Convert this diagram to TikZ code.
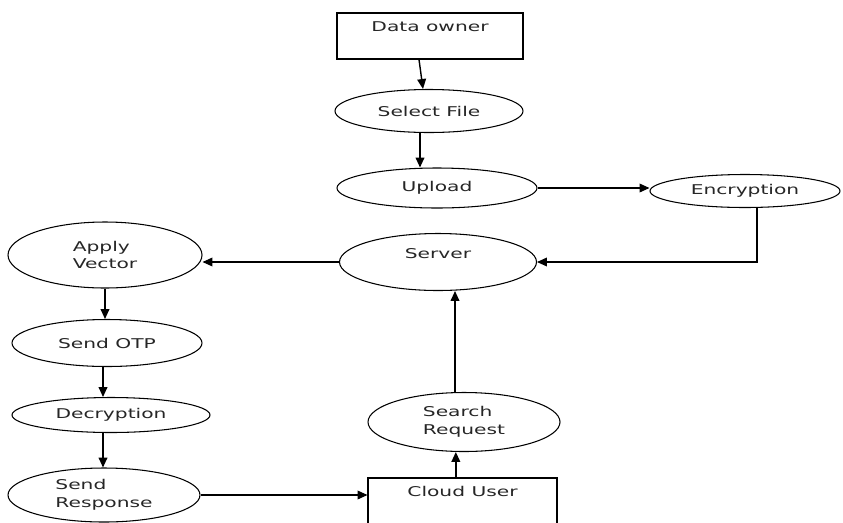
\documentclass[tikz,border=0pt]{standalone}
\usepackage{fontspec}
\newfontfamily\flowfont[FakeStretch=1.5]{DejaVu Sans}
\usetikzlibrary{shapes.geometric,arrows.meta}

\tikzset{
  proc/.style={ellipse, draw, line width=0.9pt, inner sep=0pt, align=left},
  actor/.style={rectangle, draw, line width=0.9pt, inner sep=0pt},
  toplabel/.style={below=4pt}
}

\begin{document}
\begin{tikzpicture}[x=0.03cm, y=-0.03cm, >={Triangle[length=8.5pt,width=7.5pt]},
  every node/.style={font=\flowfont\fontsize{11.5}{15}\selectfont, text=black!85}]

\useasboundingbox (0,0) rectangle (843,522);
\clip (0,0) rectangle (843,522);

\node[actor, minimum width=5.58cm, minimum height=1.38cm, label={[toplabel]north:Data owner}] (own) at (430,36) {};
\node[proc, minimum width=5.64cm, minimum height=1.29cm] (sel) at (429,111) {Select File};
\node[proc, minimum width=6.0cm, minimum height=1.2cm] (upl) at (437,188) {Upload};
\node[proc, minimum width=5.7cm, minimum height=0.99cm] (enc) at (745,191) {Encryption};
\node[proc, minimum width=5.91cm, minimum height=1.71cm, text depth=15pt] (srv) at (438,262) {Server};

\node[proc, minimum width=5.82cm, minimum height=1.98cm] (vec) at (105,255) {Apply\\Vector};
\node[proc, minimum width=5.7cm, minimum height=1.41cm] (otp) at (107,343) {Send OTP};
\node[proc, minimum width=5.94cm, minimum height=1.05cm] (dec) at (111,415) {Decryption};
\node[proc, minimum width=5.76cm, minimum height=1.62cm] (rsp) at (104,495) {Send\\Response};

\node[proc, minimum width=5.76cm, minimum height=1.77cm] (req) at (464,422) {Search\\Request};
\node[actor, minimum width=5.67cm, minimum height=1.8cm, label={[toplabel]north:Cloud User}] (usr) at (462.5,508) {};

\begin{scope}[->, line width=1.2pt]
\draw ([xshift=-0.33cm]own.south) -- ([xshift=-0.18cm]sel.north);
\draw ([xshift=-0.27cm]sel.south) -- ([xshift=-0.27cm]sel.south |- upl.north);
\draw (vec.south) -- (vec.south |- otp.north);
\draw ([xshift=-0.12cm]otp.south) -- ([xshift=-0.12cm]otp.south |- dec.north);
\draw ([xshift=-0.24cm]dec.south) -- ([xshift=-0.24cm]dec.south |- rsp.north);
\draw ([xshift=-0.2cm]usr.north) -- ([xshift=-0.2cm]usr.north |- req.south);
\draw ([xshift=-0.27cm]req.north) -- ([xshift=-0.27cm]req.north |- srv.south);
\end{scope}

\begin{scope}[->, line width=0.9pt]
\draw (upl.east) -- (upl.east -| enc.west);
\draw ([xshift=0.36cm]enc.south) |- (srv.east);
\draw (srv.west) -- (srv.west -| vec.east);
\draw (rsp.east) -- (rsp.east -| usr.west);
\end{scope}

\end{tikzpicture}
\end{document}
